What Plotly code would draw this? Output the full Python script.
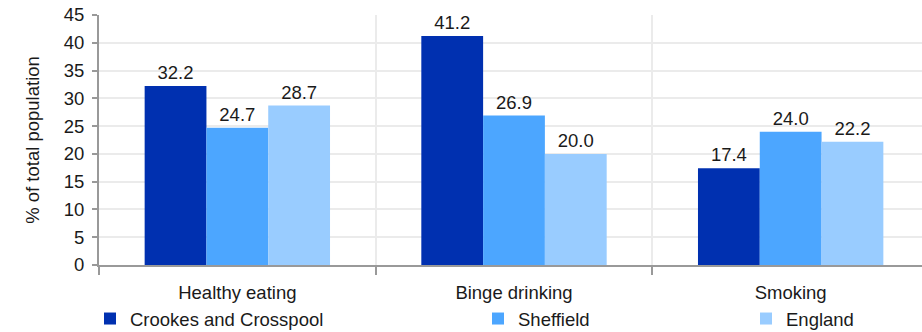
import plotly.graph_objects as go

categories = ["Healthy eating", "Binge drinking", "Smoking"]
series_names = ["Crookes and Crosspool", "Sheffield", "England"]
crookes = [32.2, 41.2, 17.4]
sheffield = [24.7, 26.9, 24.0]
england = [28.7, 20.0, 22.2]
y_ticks = [0, 5, 10, 15, 20, 25, 30, 35, 40, 45]

colors = ["#0030b0", "#4ca6ff", "#99ccff"]
values = [crookes, sheffield, england]
legends = ["legend", "legend2", "legend3"]
FONT = "Liberation Sans, Arial, sans-serif"
FS = 18.5
TXT = "#1a1a1a"

fig = go.Figure()
for name, vals, col, lg in zip(series_names, values, colors, legends):
    fig.add_trace(go.Bar(
        x=categories, y=vals, name=name, marker_color=col, marker_line_width=0,
        text=vals, texttemplate="%{y:.1f}", textposition="outside",
        textfont=dict(size=FS, color=TXT, family=FONT),
        cliponaxis=False, legend=lg,
    ))

W, L, R, T, B = 929, 99, 0, 15, 67
pw = W - L - R
ph = 332 - T - B

def lx(px):
    return (px - L) / pw

ly = (265 - 319) / ph

leg_common = dict(orientation="h", yanchor="middle", y=ly, xanchor="left",
                  font=dict(size=FS, family=FONT, color=TXT),
                  bgcolor="rgba(0,0,0,0)", itemwidth=30, tracegroupgap=0)

fig.update_layout(
    width=W, height=332,
    margin=dict(l=L, r=R, t=T, b=B, autoexpand=False),
    paper_bgcolor="white", plot_bgcolor="white",
    font=dict(family=FONT, size=FS, color=TXT),
    barmode="group", bargap=0.33, bargroupgap=0,
    showlegend=True,
    legend=dict(x=lx(90), **leg_common),
    legend2=dict(x=lx(478), **leg_common),
    legend3=dict(x=lx(746), **leg_common),
    xaxis=dict(
        type="category", tickson="boundaries", showgrid=True, gridcolor="#ebebeb", gridwidth=2,
        showline=True, linecolor="#999999", linewidth=2, automargin=False,
        ticks="outside", ticklen=8, tickcolor="#999999", tickwidth=2,
        ticklabelstandoff=10,
        tickfont=dict(size=FS, family=FONT, color=TXT),
    ),
    yaxis=dict(
        range=[0, 45], tickvals=y_ticks, showgrid=True, gridcolor="#ebebeb", gridwidth=2,
        showline=True, linecolor="#999999", linewidth=2, automargin=False,
        ticks="outside", ticklen=5, tickcolor="#999999", tickwidth=2,
        ticklabelstandoff=4,
        tickfont=dict(size=FS, family=FONT, color=TXT),
        title=dict(text="% of total population", font=dict(size=FS, family=FONT, color=TXT), standoff=19),
        zeroline=False,
    ),
)

fig.write_html(
    "out.html",
    config={"displayModeBar": False},
    post_script="document.body.style.margin='0';document.body.style.overflow='hidden';",
)
